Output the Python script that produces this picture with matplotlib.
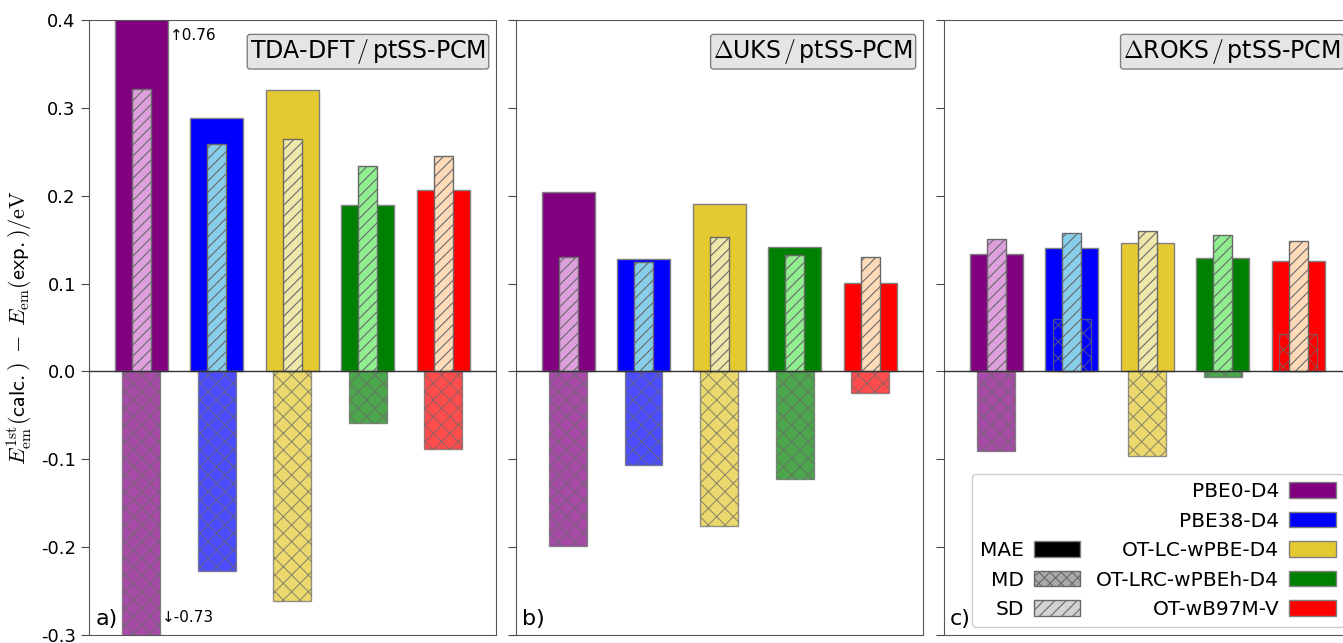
import matplotlib
matplotlib.use("Agg")
import matplotlib.pyplot as plt
from matplotlib.patches import Patch
import numpy as np

plt.rcParams['axes.unicode_minus'] = False
plt.rcParams['mathtext.fontset'] = 'cm'
plt.rcParams['hatch.linewidth'] = 0.8

methods = ['PBE0-D4', 'PBE38-D4', 'OT-LC-wPBE-D4', 'OT-LRC-wPBEh-D4', 'OT-wB97M-V']
panels = [r'TDA-DFT$\,/\,$ptSS-PCM', r'$\Delta$UKS$\,/\,$ptSS-PCM', r'$\Delta$ROKS$\,/\,$ptSS-PCM']
panel_tags = ['a)', 'b)', 'c)']

# values per panel: TDA-DFT, dUKS, dROKS
mae = [[0.76, 0.288, 0.320, 0.190, 0.206],
       [0.204, 0.128, 0.191, 0.142, 0.101],
       [0.134, 0.141, 0.146, 0.129, 0.126]]
md = [[-0.73, -0.227, -0.261, -0.059, -0.088],
      [-0.199, -0.106, -0.176, -0.122, -0.025],
      [-0.090, 0.060, -0.096, -0.006, 0.043]]
sd = [[0.322, 0.259, 0.264, 0.234, 0.245],
      [0.130, 0.125, 0.153, 0.132, 0.130],
      [0.151, 0.158, 0.160, 0.155, 0.149]]

colors = ['#800080', '#0000ff', '#e5c930', '#008000', '#ff0000']
light = ['#dda0dd', '#87ceeb', '#eee8aa', '#90ee90', '#ffdab9']

fig = plt.figure(figsize=(13.43, 6.43), dpi=100)
lefts = [0.0663, 0.3842, 0.7029]
axes = [fig.add_axes([l, 0.0124, 0.3031, 0.9565]) for l in lefts]

x = np.arange(len(methods))
for k, ax in enumerate(axes):
    ax.bar(x, mae[k], width=0.7, color=colors, edgecolor='gray', linewidth=1, zorder=1)
    ax.bar(x, md[k], width=0.5, color=colors, alpha=0.7, edgecolor='dimgray',
           linewidth=1, hatch='xx', zorder=2)
    ax.bar(x, sd[k], width=0.25, color=light, edgecolor='dimgray',
           linewidth=1, hatch='///', zorder=3)
    ax.axhline(0, color='#333333', lw=1, zorder=4)
    ax.set_ylim(-0.3, 0.4)
    ax.set_xlim(-0.69, 4.70)
    ax.set_xticks([])
    ax.set_yticks(np.arange(-0.3, 0.41, 0.1))
    ax.tick_params(axis='y', labelsize=13, length=6, color='#444444')
    for s in ax.spines.values():
        s.set_color('#555555')
    if k > 0:
        ax.set_yticklabels([])
    else:
        ax.set_yticklabels(['%.1f' % v for v in np.arange(-0.3, 0.41, 0.1)])
    ax.text(0.975, 0.972, panels[k], transform=ax.transAxes, ha='right', va='top',
            fontsize=17, zorder=6,
            bbox=dict(boxstyle='round,pad=0.12', facecolor='#e5e5e5', edgecolor='gray'))
    ax.text(0.015, 0.01, panel_tags[k], transform=ax.transAxes, ha='left', va='bottom',
            fontsize=16, zorder=6)

axes[0].set_ylabel(r'$E_{\mathrm{em}}^{\mathrm{1st}}(\mathsf{calc.})\;-\;E_{\mathrm{em}}(\mathsf{exp.})/\mathrm{eV}$',
                   fontsize=16)
axes[0].text(0.38, 0.382, u'\u2191' + '%.2f' % mae[0][0], fontsize=11, ha='left', va='center')
axes[0].text(0.28, -0.28, u'\u2193' + '%.2f' % md[0][0], fontsize=11, ha='left', va='center')

blank = Patch(visible=False)
handles = [blank, blank,
           Patch(facecolor='black', edgecolor='gray'),
           Patch(facecolor='darkgray', edgecolor='dimgray', hatch='xxx'),
           Patch(facecolor='lightgray', edgecolor='dimgray', hatch='///')]
labels = ['', '', 'MAE', 'MD', 'SD']
for c, m in zip(colors, methods):
    handles.append(Patch(facecolor=c, edgecolor='gray'))
    labels.append(m)
axes[2].legend(handles, labels, ncol=2, loc='lower right', markerfirst=False,
               fontsize=14.5, handlelength=2.3, handleheight=0.8, columnspacing=0.8,
               handletextpad=0.5, labelspacing=0.52, bbox_to_anchor=(0.997, 0.003),
               borderaxespad=0.3, fancybox=True, framealpha=1)

fig.savefig('out.png', dpi=100)
